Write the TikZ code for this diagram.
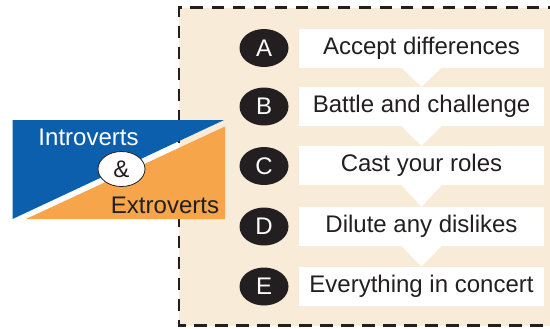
\documentclass[tikz,border=0pt]{standalone}
\usepackage{fontspec}
\setmainfont{Liberation Sans}
\usetikzlibrary{shapes.geometric}
\definecolor{beige}{HTML}{F8EBD8}
\definecolor{iblue}{HTML}{0B5FAC}
\definecolor{eorange}{HTML}{F6A54B}
\definecolor{darkc}{HTML}{231F20}
\definecolor{txt}{HTML}{231F20}
\tikzset{
  lbl/.style={font=\fontsize{24bp}{28bp}\selectfont, text=txt},
  stepbox/.style={lbl, fill=white, minimum width=245bp, minimum height=39bp, inner sep=0pt, anchor=center},
  letterdot/.style={ellipse, fill=darkc, minimum width=49bp, minimum height=38bp, inner sep=0pt,
    font=\fontsize{24bp}{28bp}\selectfont, text=white},
  pointer/.style={fill=white, draw=none},
}
\begin{document}
\begin{tikzpicture}[x=1bp, y=-1bp]
\useasboundingbox (0,0) rectangle (550,328);
\clip (0,0) rectangle (550,328);
% dashed frame
\fill[beige] (179,7.5) rectangle (560,325.5);
\draw[darkc, line width=2.7bp, dash pattern=on 12.5bp off 8.5bp] (560,7.5) -- (179,7.5) -- (179,325.5) -- (560,325.5);
% steps
\node[stepbox] (bA) at (421.5,48) {Accept differences};
\node[stepbox] (bB) at (421.5,106.5) {Battle and challenge};
\node[stepbox] (bC) at (421.5,165.5) {Cast your roles};
\node[stepbox] (bD) at (421.5,226.5) {Dilute any dislikes};
\node[stepbox] (bE) at (421.5,286) {Everything in concert};
\foreach \u/\v in {bA/bB, bB/bC, bC/bD, bD/bE}{
  \fill[pointer] ([xshift=-20bp]\u.south) -- ([xshift=20bp]\u.south) -- (\v.north) -- cycle;
}
\node[letterdot] (cA) at (264,48) {A};
\node[letterdot] (cB) at (264,106.5) {B};
\node[letterdot] (cC) at (264,166) {C};
\node[letterdot] (cD) at (264,226.5) {D};
\node[letterdot] (cE) at (264,286.5) {E};
% left panel
\fill[iblue] (12.5,120) -- (224,120) -- (12.5,219) -- cycle;
\fill[eorange] (225,126.5) -- (225,219) -- (26,219) -- cycle;
\node[lbl, text=white, anchor=base] (intro) at (88.5,145) {Introverts};
\node[lbl, anchor=base] (extro) at (165,213) {Extroverts};
\node[ellipse, draw=darkc, line width=0.8bp, fill=white, minimum width=47bp, minimum height=35bp, inner sep=0pt, lbl] (amp) at (121.5,169) {\&};
\end{tikzpicture}
\end{document}
